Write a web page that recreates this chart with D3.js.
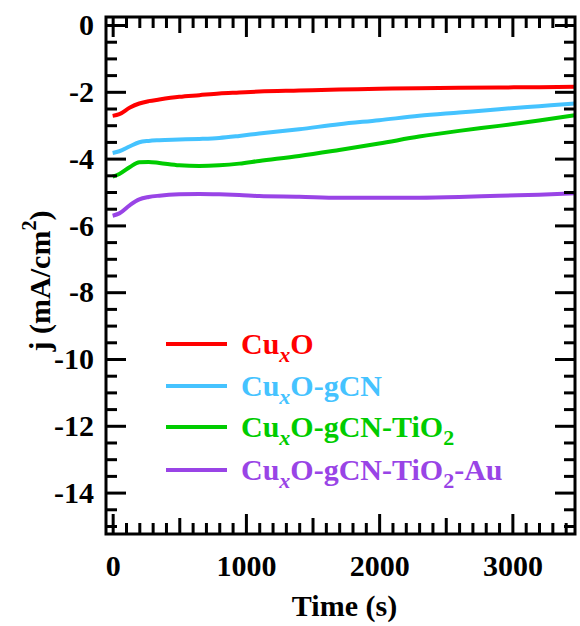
<!DOCTYPE html>
<html>
<head>
<meta charset="utf-8">
<script src="https://cdn.jsdelivr.net/npm/d3@7"></script>
<style>
  body { margin: 0; background: #fff; }
  text { font-family: "Liberation Serif", "Times New Roman", serif; font-weight: bold; }
</style>
</head>
<body>
<div id="canvas"></div>
<script>
// time axis (s)
const times = [0, 50, 130, 200, 270, 350, 500, 650, 800, 950, 1100, 1400, 1700, 2000, 2300, 2600, 2900, 3200, 3470];

// current density (mA/cm2)
const cuxo        = [-2.72, -2.67, -2.47, -2.35, -2.28, -2.23, -2.15, -2.10, -2.05, -2.02, -1.99, -1.96, -1.93, -1.91, -1.89, -1.88, -1.87, -1.86, -1.85];
const cuxoGcn     = [-3.83, -3.78, -3.63, -3.51, -3.47, -3.45, -3.43, -3.41, -3.38, -3.32, -3.25, -3.12, -2.97, -2.85, -2.72, -2.62, -2.52, -2.43, -2.35];
const cuxoGcnTi   = [-4.54, -4.46, -4.25, -4.11, -4.10, -4.13, -4.20, -4.22, -4.20, -4.15, -4.07, -3.92, -3.74, -3.55, -3.34, -3.17, -3.02, -2.86, -2.70];
const cuxoGcnTiAu = [-5.71, -5.64, -5.39, -5.22, -5.15, -5.11, -5.07, -5.06, -5.07, -5.09, -5.12, -5.14, -5.17, -5.17, -5.17, -5.15, -5.11, -5.08, -5.04];

const seriesValues = [cuxo, cuxoGcn, cuxoGcnTi, cuxoGcnTiAu];
const colors = ["#ff0000", "#45c3ff", "#00cc00", "#9944e6"];
// legend labels as pieces; "subi" = italic subscript, "sub" = subscript
const legendLabels = [
  [["Cu", ""], ["x", "subi"], ["O", ""]],
  [["Cu", ""], ["x", "subi"], ["O-gCN", ""]],
  [["Cu", ""], ["x", "subi"], ["O-gCN-TiO", ""], ["2", "sub"]],
  [["Cu", ""], ["x", "subi"], ["O-gCN-TiO", ""], ["2", "sub"], ["-Au", ""]]
];

const xMajor = [0, 1000, 2000, 3000];
const yMajor = [0, -2, -4, -6, -8, -10, -12, -14];

const width = 580;
const height = 626;
const margin = { top: 17, left: 106, bottom: 92, right: 5 };
const iwidth = width - margin.left - margin.right;
const iheight = height - margin.top - margin.bottom;

const svg = d3.select("#canvas").append("svg")
  .attr("width", width)
  .attr("height", height);

const g = svg.append("g").attr("transform", `translate(${margin.left},${margin.top})`);

const x = d3.scaleLinear().domain([-50, 3470]).range([0, iwidth]);
const y = d3.scaleLinear().domain([-15.24, 0.24]).range([iheight, 0]);

g.append("clipPath").attr("id", "clip")
  .append("rect").attr("width", iwidth).attr("height", iheight);

// lines
const line = d3.line()
  .x((d, i) => x(times[i]))
  .y(d => y(d))
  .curve(d3.curveMonotoneX);

g.append("g").attr("clip-path", "url(#clip)")
  .selectAll("path").data(seriesValues).enter().append("path")
  .attr("d", d => line(d))
  .attr("fill", "none")
  .attr("stroke", (d, i) => colors[i])
  .attr("stroke-width", 4)
  .attr("stroke-linejoin", "round");

// ticks
const xMinor = d3.range(0, 3401, 100).filter(v => v % 500 !== 0);
const xMid = d3.range(500, 3401, 1000);
const yMinor = d3.range(-15, 0.01, 0.5).filter(v => Math.abs(v % 2) !== 0);
const fmt = d => String(d); // plain hyphen for negatives, like the original

function styleAxis(sel) {
  sel.attr("font-family", null).attr("font-size", null);
  sel.select(".domain").remove();
  sel.selectAll("line").attr("stroke", "#000").attr("stroke-width", 3);
  sel.selectAll("text").attr("font-size", 30).attr("fill", "#000");
}

// bottom
g.append("g").attr("transform", `translate(0,${iheight})`)
  .call(d3.axisBottom(x).tickValues(xMinor).tickSize(-11).tickFormat("")).call(styleAxis);
g.append("g").attr("transform", `translate(0,${iheight})`)
  .call(d3.axisBottom(x).tickValues(xMid).tickSize(-16).tickFormat("")).call(styleAxis);
g.append("g").attr("transform", `translate(0,${iheight})`)
  .call(d3.axisBottom(x).tickValues(xMajor).tickSize(-20).tickPadding(21).tickFormat(fmt)).call(styleAxis);
// top
g.append("g")
  .call(d3.axisTop(x).tickValues(xMinor).tickSize(-11).tickFormat("")).call(styleAxis);
g.append("g")
  .call(d3.axisTop(x).tickValues(xMid).tickSize(-16).tickFormat("")).call(styleAxis);
g.append("g")
  .call(d3.axisTop(x).tickValues(xMajor).tickSize(-20).tickFormat("")).call(styleAxis);
// left
g.append("g")
  .call(d3.axisLeft(y).tickValues(yMinor).tickSize(-11).tickFormat("")).call(styleAxis);
g.append("g")
  .call(d3.axisLeft(y).tickValues(yMajor).tickSize(-20).tickPadding(12).tickFormat(fmt)).call(styleAxis);
// right
g.append("g").attr("transform", `translate(${iwidth},0)`)
  .call(d3.axisRight(y).tickValues(yMinor).tickSize(-11).tickFormat("")).call(styleAxis);
g.append("g").attr("transform", `translate(${iwidth},0)`)
  .call(d3.axisRight(y).tickValues(yMajor).tickSize(-20).tickFormat("")).call(styleAxis);

// frame
g.append("rect")
  .attr("width", iwidth).attr("height", iheight)
  .attr("fill", "none").attr("stroke", "#000").attr("stroke-width", 3);

// axis titles
svg.append("text")
  .attr("x", margin.left + iwidth / 2 + 4)
  .attr("y", 616)
  .attr("text-anchor", "middle")
  .attr("font-size", 30)
  .text("Time (s)");

const yt = svg.append("text")
  .attr("transform", "translate(50,281) rotate(-90)")
  .attr("text-anchor", "middle")
  .attr("font-size", 30);
yt.append("tspan").text("j (mA/cm");
yt.append("tspan").attr("font-size", 20).attr("dy", -14).text("2");
yt.append("tspan").attr("dy", 14).text(")");

// legend
const legend = svg.append("g");
const rowY = [344, 386, 427, 470];
legendLabels.forEach((parts, i) => {
  legend.append("line")
    .attr("x1", 166).attr("x2", 227)
    .attr("y1", rowY[i]).attr("y2", rowY[i])
    .attr("stroke", colors[i]).attr("stroke-width", 4);
  const t = legend.append("text")
    .attr("x", 241).attr("y", rowY[i] + 10)
    .attr("font-size", 30)
    .attr("fill", colors[i]);
  let shifted = 0;
  parts.forEach(([s, kind]) => {
    const ts = t.append("tspan").text(s);
    if (kind) {
      ts.attr("font-size", 22).attr("dy", 8 - shifted);
      if (kind === "subi") ts.attr("font-style", "italic");
      shifted = 8;
    } else {
      ts.attr("dy", -shifted);
      shifted = 0;
    }
  });
});
</script>
</body>
</html>
